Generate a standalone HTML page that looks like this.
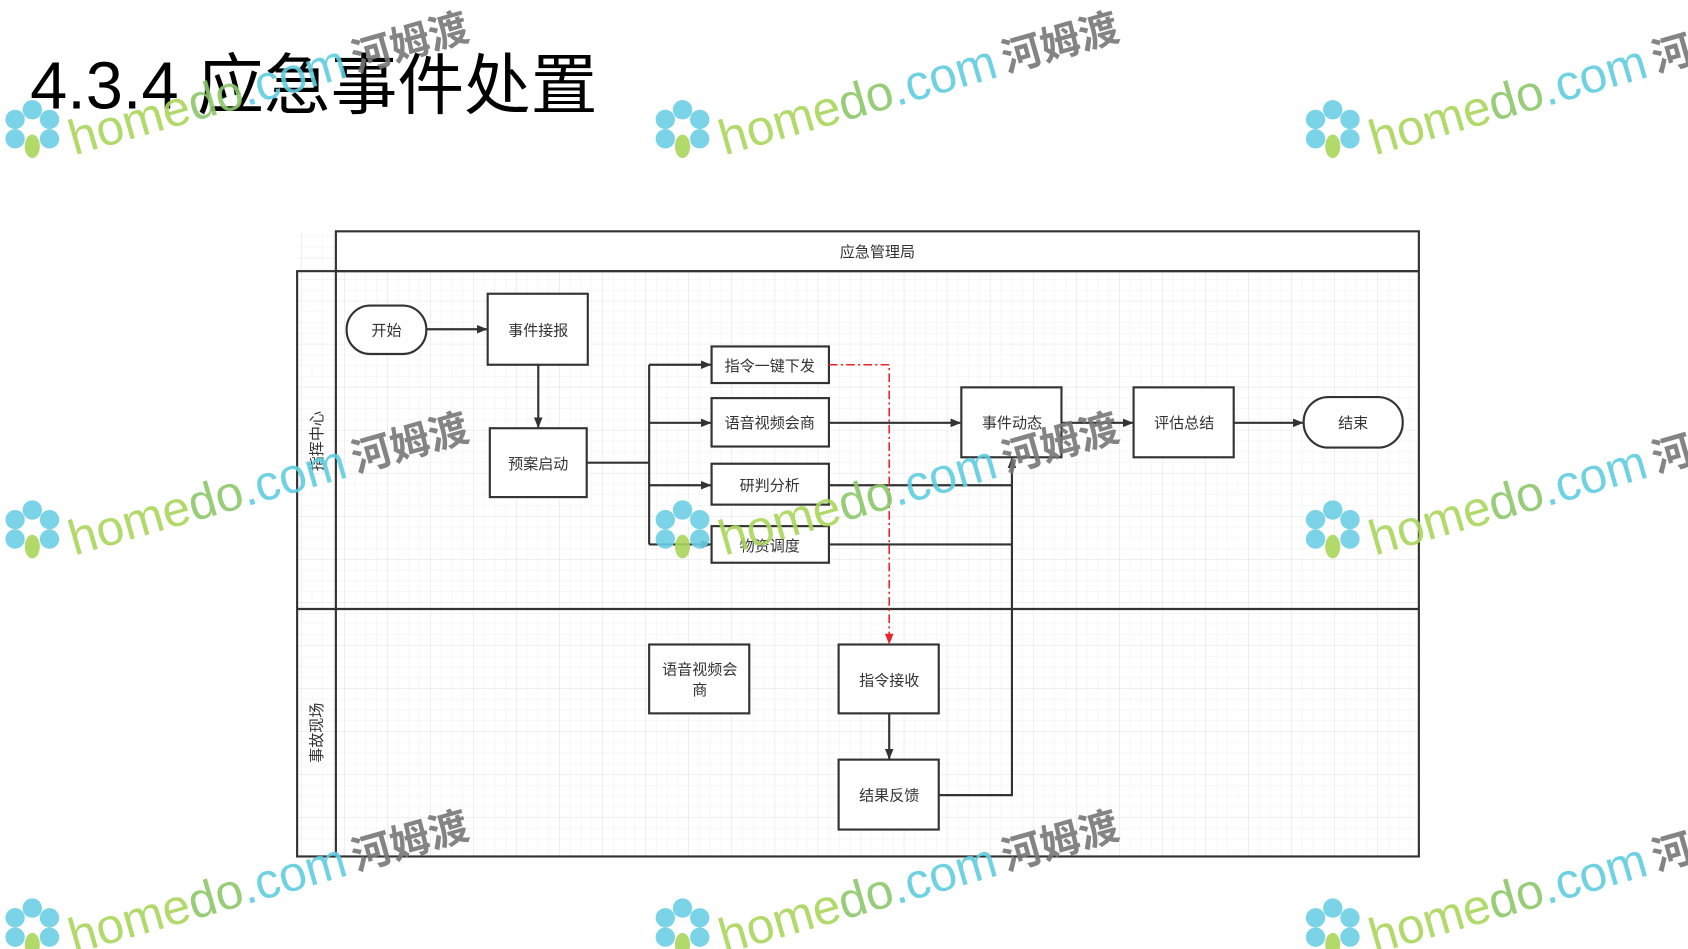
<!DOCTYPE html>
<html><head><meta charset="utf-8"><style>
html,body{margin:0;padding:0;background:#fff;width:1688px;height:949px;overflow:hidden}
svg{display:block}
text{font-family:"Liberation Sans","Noto Sans CJK SC",sans-serif}
</style></head><body>
<svg width="1688" height="949" viewBox="0 0 1568 882" preserveAspectRatio="none" xmlns="http://www.w3.org/2000/svg">
<defs>
<pattern id="gs" width="10" height="10" patternUnits="userSpaceOnUse"><path d="M10 0V10H0" fill="none" stroke="#ececec" stroke-width="0.7"/></pattern>
<pattern id="gl" width="40" height="40" patternUnits="userSpaceOnUse"><rect width="40" height="40" fill="url(#gs)"/><path d="M40 0V40H0" fill="none" stroke="#dcdcdc" stroke-width="0.8"/></pattern>
<marker id="a" markerWidth="10" markerHeight="8" refX="9" refY="4" orient="auto" markerUnits="userSpaceOnUse"><path d="M0 0L10 4L0 8z" fill="#333"/></marker>
<marker id="r" markerWidth="10" markerHeight="8" refX="9" refY="4" orient="auto" markerUnits="userSpaceOnUse"><path d="M0 0L10 4L0 8z" fill="#e8262a"/></marker>
<g id="wm">
<g fill="#6ccfe6"><circle cx="0" cy="-18" r="9"/><circle cx="16" cy="-9" r="9"/><circle cx="16" cy="9" r="9"/><circle cx="-16" cy="-9" r="9"/><circle cx="-16" cy="9" r="9"/></g>
<ellipse cx="0" cy="16" rx="7" ry="11" fill="#a9d65a"/>
<g transform="rotate(-16 35 10)">
<text x="35" y="25" font-size="46" fill="#a9d65a" font-family="Liberation Sans,sans-serif">home<tspan fill="#8cc86a">do</tspan><tspan fill="#5fcde0">.com</tspan></text>
<text x="308" y="23" font-size="37" font-weight="bold" fill="#777">河姆渡</text>
</g>
</g>
</defs>
<rect width="1568" height="882" fill="#fff"/>
<text x="28" y="101" font-size="62" fill="#000">4.3.4 应急事件处置</text>

<rect x="276" y="215" width="1042" height="581" fill="url(#gl)"/>
<rect x="312" y="215" width="1006" height="37" fill="#fff" stroke="#333" stroke-width="2"/>
<text x="815" y="239" font-size="14" text-anchor="middle" fill="#333">应急管理局</text>
<rect x="276" y="252" width="1042" height="544" fill="none" stroke="#333" stroke-width="2"/>
<line x1="312" y1="252" x2="312" y2="796" stroke="#333" stroke-width="2"/>
<line x1="276" y1="566" x2="1318" y2="566" stroke="#333" stroke-width="2"/>
<text transform="translate(299 410) rotate(-90)" font-size="14" text-anchor="middle" fill="#333">指挥中心</text>
<text transform="translate(299 681) rotate(-90)" font-size="14" text-anchor="middle" fill="#333">事故现场</text>

<g stroke="#333" stroke-width="2" fill="#fff">
<rect x="322" y="284" width="74" height="45" rx="22"/>
<rect x="453" y="273" width="93" height="66"/>
<rect x="455" y="398" width="90" height="64"/>
<rect x="661" y="322" width="109" height="34"/>
<rect x="661" y="370" width="109" height="45"/>
<rect x="661" y="431" width="109" height="38"/>
<rect x="661" y="489" width="109" height="34"/>
<rect x="893" y="360" width="93" height="65"/>
<rect x="1053" y="360" width="93" height="65"/>
<rect x="1211" y="369" width="92" height="47" rx="23"/>
<rect x="603" y="599" width="93" height="64"/>
<rect x="779" y="599" width="93" height="64"/>
<rect x="779" y="706" width="93" height="65"/>
</g>
<g font-size="14" fill="#333" text-anchor="middle">
<text x="359" y="312">开始</text>
<text x="500" y="312">事件接报</text>
<text x="500" y="436">预案启动</text>
<text x="715" y="345">指令一键下发</text>
<text x="715" y="398">语音视频会商</text>
<text x="715" y="456">研判分析</text>
<text x="715" y="512">物资调度</text>
<text x="940" y="398">事件动态</text>
<text x="1100" y="398">评估总结</text>
<text x="1257" y="398">结束</text>
<text x="650" y="627">语音视频会</text>
<text x="650" y="646">商</text>
<text x="826" y="637">指令接收</text>
<text x="826" y="744">结果反馈</text>
</g>
<g stroke="#333" stroke-width="2" fill="none">
<line x1="396" y1="306" x2="452" y2="306" marker-end="url(#a)"/>
<line x1="500" y1="339" x2="500" y2="397" marker-end="url(#a)"/>
<polyline points="545,430 603,430"/>
<line x1="603" y1="339" x2="603" y2="506"/>
<line x1="603" y1="339" x2="660" y2="339" marker-end="url(#a)"/>
<line x1="603" y1="393" x2="660" y2="393" marker-end="url(#a)"/>
<line x1="603" y1="451" x2="660" y2="451" marker-end="url(#a)"/>
<line x1="603" y1="506" x2="660" y2="506" marker-end="url(#a)"/>
<line x1="770" y1="393" x2="892" y2="393" marker-end="url(#a)"/>
<line x1="986" y1="393" x2="1052" y2="393" marker-end="url(#a)"/>
<line x1="1146" y1="393" x2="1210" y2="393" marker-end="url(#a)"/>
<polyline points="770,451 940,451"/>
<polyline points="770,506 940,506"/>
<polyline points="872,739 940,739 940,426" marker-end="url(#a)"/>
<line x1="826" y1="663" x2="826" y2="705" marker-end="url(#a)"/>
</g>
<polyline points="770,339 826,339 826,598" fill="none" stroke="#e8262a" stroke-width="1.5" stroke-dasharray="8,3,2,3" marker-end="url(#r)"/>

<g opacity="0.9">
<use href="#wm" x="30" y="120"/>
<use href="#wm" x="634" y="120"/>
<use href="#wm" x="1238" y="120"/>
<use href="#wm" x="30" y="492"/>
<use href="#wm" x="634" y="492"/>
<use href="#wm" x="1238" y="492"/>
<use href="#wm" x="30" y="862"/>
<use href="#wm" x="634" y="862"/>
<use href="#wm" x="1238" y="862"/>
</g>
</svg>
</body></html>
